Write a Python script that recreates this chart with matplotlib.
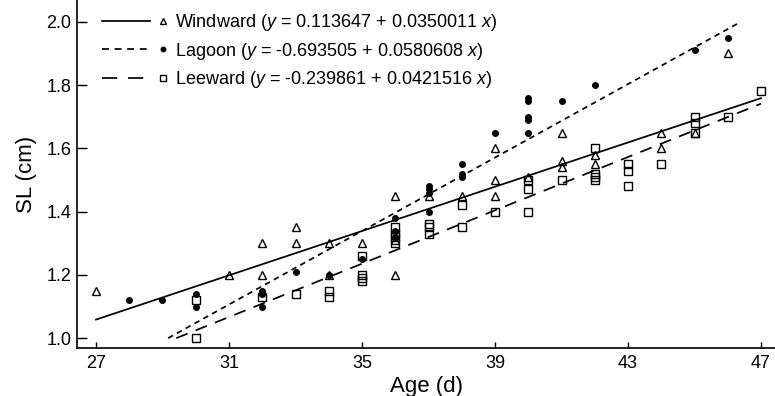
import numpy as np
import matplotlib
matplotlib.use("Agg")
import matplotlib.pyplot as plt
from matplotlib.lines import Line2D
from matplotlib.legend_handler import HandlerBase

plt.rcParams['font.family'] = ['Liberation Sans', 'DejaVu Sans']
plt.rcParams['mathtext.fontset'] = 'custom'
plt.rcParams['mathtext.rm'] = 'Liberation Sans'
plt.rcParams['mathtext.it'] = 'Liberation Sans:italic'

# Windward reef (open triangles)
windward_age = [27, 31, 32, 32, 33, 33, 34, 34, 35, 36, 36, 36, 37, 38,
                39, 39, 39, 40, 41, 41, 41, 42, 42, 44, 44, 45, 46]
windward_sl = [1.15, 1.20, 1.30, 1.20, 1.35, 1.30, 1.30, 1.20, 1.30, 1.45, 1.31, 1.20, 1.45, 1.45,
               1.60, 1.50, 1.45, 1.51, 1.65, 1.56, 1.54, 1.58, 1.55, 1.65, 1.60, 1.65, 1.90]

# Lagoon (filled dots)
lagoon_age = [28, 29, 30, 30, 32, 32, 32, 33, 34, 35, 36, 36, 36, 37, 37, 37, 37,
              38, 38, 38, 39, 40, 40, 40, 40, 40, 41, 42, 45, 46]
lagoon_sl = [1.12, 1.12, 1.14, 1.10, 1.15, 1.14, 1.10, 1.21, 1.20, 1.25, 1.38, 1.34, 1.32,
             1.48, 1.47, 1.46, 1.40, 1.55, 1.52, 1.51, 1.65, 1.76, 1.75, 1.70, 1.69, 1.65,
             1.75, 1.80, 1.91, 1.95]

# Leeward reef (open squares)
leeward_age = [30, 30, 32, 33, 34, 34, 35, 35, 35, 35, 36, 36, 36, 36, 37, 37, 37,
               38, 38, 39, 40, 40, 40, 41, 42, 42, 42, 42, 43, 43, 43, 44, 45, 45, 45, 46, 47]
leeward_sl = [1.12, 1.00, 1.13, 1.14, 1.15, 1.13, 1.26, 1.20, 1.19, 1.18, 1.35, 1.33, 1.32, 1.30,
              1.36, 1.35, 1.33, 1.42, 1.35, 1.40, 1.50, 1.47, 1.40, 1.50, 1.60, 1.52, 1.51, 1.50,
              1.55, 1.53, 1.48, 1.55, 1.70, 1.68, 1.65, 1.70, 1.78]

# regression fits given in the legend: y = a + b x
names = ['Windward', 'Lagoon', 'Leeward']
intercepts = [0.113647, -0.693505, -0.239861]
slopes = [0.0350011, 0.0580608, 0.0421516]
intercept_txt = ['0.113647', '-0.693505', '-0.239861']
slope_txt = ['0.0350011', '0.0580608', '0.0421516']

x_ticks = [27, 31, 35, 39, 43, 47]
y_ticks = [1.0, 1.2, 1.4, 1.6, 1.8, 2.0]


class LineThenMarker(HandlerBase):
    # legend entry drawn as a line segment followed by the marker
    def create_artists(self, legend, orig_handle, xdescent, ydescent,
                       width, height, fontsize, trans):
        y = height / 2 - ydescent
        x0 = -xdescent
        seg = Line2D([x0, x0 + 0.73 * width], [y, y], color='black',
                     linewidth=orig_handle.get_linewidth(),
                     linestyle=orig_handle.get_linestyle())
        if orig_handle.get_linestyle() != '-':
            seg.set_dashes(orig_handle._dash_pattern[1])
        mk = Line2D([x0 + 0.92 * width], [y], linestyle='none',
                    marker=orig_handle.get_marker(),
                    markersize=orig_handle.get_markersize() * 0.8,
                    markerfacecolor=orig_handle.get_markerfacecolor(),
                    markeredgecolor='black',
                    markeredgewidth=orig_handle.get_markeredgewidth())
        seg.set_transform(trans)
        mk.set_transform(trans)
        return [seg, mk]


fig = plt.figure(figsize=(7.75, 3.96), dpi=100)
ax = fig.add_axes([0.0994, 0.1205, 0.9006, 0.8795])

ax.plot(windward_age, windward_sl, linestyle='none', marker='^', markersize=5.6,
        markerfacecolor='none', markeredgecolor='black', markeredgewidth=1.0)
ax.plot(lagoon_age, lagoon_sl, linestyle='none', marker='o', markersize=4.0,
        markerfacecolor='black', markeredgecolor='black')
ax.plot(leeward_age, leeward_sl, linestyle='none', marker='s', markersize=5.4,
        markerfacecolor='none', markeredgecolor='black', markeredgewidth=1.0)

styles = [dict(linestyle='-'),
          dict(linestyle=(0, (3.2, 2.6))),
          dict(linestyle=(0, (7.0, 5.0)))]
markers = [dict(marker='^', markerfacecolor='none', markersize=5.6),
           dict(marker='o', markerfacecolor='black', markersize=4.0),
           dict(marker='s', markerfacecolor='none', markersize=5.4)]

handles = []
labels = []
for i in range(3):
    # fitted line only where it falls between 1.0 and 2.0 and inside 27-47 d
    lo = max(27, (1.0 - intercepts[i]) / slopes[i])
    hi = min(47, (2.0 - intercepts[i]) / slopes[i])
    xs = np.array([lo, hi])
    ax.plot(xs, intercepts[i] + slopes[i] * xs, color='black', linewidth=1.25, **styles[i])
    h = Line2D([], [], color='black', linewidth=1.25, markeredgecolor='black',
               markeredgewidth=1.0, **styles[i], **markers[i])
    handles.append(h)
    labels.append('%s ($y$ = %s + %s $x$)' % (names[i], intercept_txt[i], slope_txt[i]))

ax.legend(handles, labels, handler_map={Line2D: LineThenMarker()},
          loc='upper left', bbox_to_anchor=(0.036, 0.965), borderaxespad=0,
          borderpad=0, frameon=False, fontsize=13, handlelength=3.65,
          handletextpad=0.4, labelspacing=0.42)

ax.set_xlim(26.43, 47.42)
ax.set_ylim(0.968, 2.069)
ax.set_xticks(x_ticks)
ax.set_yticks(y_ticks)
ax.set_yticklabels(['%.1f' % v for v in y_ticks])

for s in ['top', 'right']:
    ax.spines[s].set_visible(False)
for s in ['left', 'bottom']:
    ax.spines[s].set_linewidth(1.2)

ax.tick_params(axis='x', direction='in', length=4, width=1.0, pad=5, labelsize=13)
ax.tick_params(axis='y', direction='in', length=7, width=1.0, pad=4, labelsize=13)

ax.set_xlabel('Age (d)', fontsize=16, labelpad=3)
ax.set_ylabel('SL (cm)', fontsize=16, labelpad=7)

fig.savefig('out.png', dpi=100)
